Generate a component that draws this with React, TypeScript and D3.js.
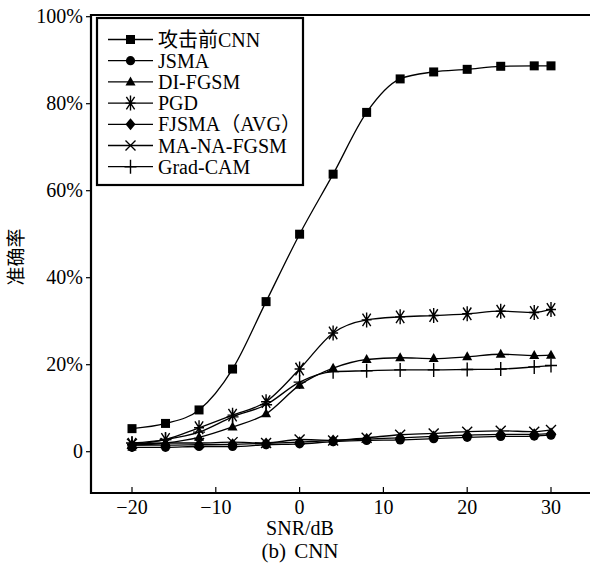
import React from "react";
import * as d3 from "d3";

const snr = [-20, -16, -12, -8, -4, 0, 4, 8, 12, 16, 20, 24, 28, 30];
const cnnClean = [5.3, 6.5, 9.6, 19, 34.5, 50, 63.8, 78, 85.7, 87.3, 87.9, 88.6, 88.7, 88.7];
const jsma = [1.0, 1.0, 1.2, 1.2, 1.6, 1.8, 2.3, 2.6, 2.7, 3.0, 3.3, 3.5, 3.6, 3.8];
const diFgsm = [1.5, 2.0, 3.3, 5.7, 8.7, 15.3, 19.2, 21.2, 21.6, 21.4, 21.8, 22.4, 22.1, 22.2];
const pgd = [1.7, 2.8, 5.5, 8.4, 11.5, 19, 27.3, 30.3, 31, 31.3, 31.7, 32.3, 32, 32.7];
const fjsma = [1.5, 1.5, 1.6, 1.7, 1.9, 2.2, 2.6, 2.9, 3.2, 3.5, 3.8, 4.0, 4.0, 4.2];
const manaFgsm = [1.8, 2.0, 2.0, 2.2, 2.0, 2.8, 2.6, 3.2, 3.9, 4.2, 4.6, 4.8, 4.6, 5.0];
const gradCam = [2.0, 2.8, 4.5, 8.0, 10.8, 16.0, 18.4, 18.6, 18.8, 18.8, 18.9, 19.0, 19.5, 19.8];

const seriesNames = ["攻击前CNN", "JSMA", "DI-FGSM", "PGD", "FJSMA（AVG）", "MA-NA-FGSM", "Grad-CAM"];
const seriesValues = [cnnClean, jsma, diFgsm, pgd, fjsma, manaFgsm, gradCam];
const markerTypes = ["square", "circle", "triangle", "star", "diamond", "x", "plus"];

const xTicks = [-20, -10, 0, 10, 20, 30];
const yTicks = [0, 20, 40, 60, 80, 100];
const yTickLabels = ["0", "20%", "40%", "60%", "80%", "100%"];

const FONT = "'Liberation Serif', 'Times New Roman', 'Noto Sans CJK SC', serif";

function Marker({ type, x, y }: { type: string; x: number; y: number }) {
  const s = 4.5;
  switch (type) {
    case "square":
      return <rect x={x - s} y={y - s} width={2 * s} height={2 * s} fill="#000" />;
    case "circle":
      return <circle cx={x} cy={y} r={4.6} fill="#000" />;
    case "triangle":
      return <path d={`M${x},${y - 5.5}L${x + 5},${y + 3.5}L${x - 5},${y + 3.5}Z`} fill="#000" />;
    case "diamond":
      return <path d={`M${x},${y - 6}L${x + 5},${y}L${x},${y + 6}L${x - 5},${y}Z`} fill="#000" />;
    case "star": {
      const r = 7.5;
      const a = r * 0.55;
      const b = r * 0.84;
      return (
        <path
          d={`M${x},${y - r}L${x},${y + r}M${x - a},${y - b}L${x + a},${y + b}M${x - a},${y + b}L${x + a},${y - b}M${x - 5},${y}L${x + 5},${y}`}
          stroke="#000"
          strokeWidth={1.4}
          fill="none"
        />
      );
    }
    case "x": {
      const r = 5;
      return (
        <path
          d={`M${x - r},${y - r}L${x + r},${y + r}M${x - r},${y + r}L${x + r},${y - r}`}
          stroke="#000"
          strokeWidth={1.4}
          fill="none"
        />
      );
    }
    case "plus": {
      const r = 7;
      return (
        <path
          d={`M${x},${y - r}L${x},${y + r}M${x - 6},${y}L${x + 6},${y}`}
          stroke="#000"
          strokeWidth={1.4}
          fill="none"
        />
      );
    }
  }
  return null;
}

export default function App() {
  const W = 590;
  const H = 571;
  const left = 91;
  const top = 15;
  const bottom = 493;
  const x = d3.scaleLinear().domain([-20, 30]).range([132, 551]);
  const y = d3.scaleLinear().domain([0, 100]).range([451.7, 16.7]);
  const right = 600;

  const line = d3
    .line<number>()
    .x((_, i) => x(snr[i]))
    .y((d) => y(d))
    .curve(d3.curveMonotoneX);

  const legX = 97;
  const legY = 18;
  const legW = 206;
  const legH = 167;
  const rowY0 = 39.5;
  const rowStep = 21.2;

  return (
    <svg width={W} height={H} style={{ position: "absolute", left: 0, top: 0, background: "#fff" }} fontFamily={FONT}>
      <rect x={0} y={0} width={W} height={H} fill="#fff" />
      {/* series lines */}
      {seriesValues.map((vals, si) => (
        <path key={"l" + si} d={line(vals) || ""} fill="none" stroke="#000" strokeWidth={1.3} />
      ))}
      {seriesValues.map((vals, si) =>
        vals.map((v, i) => <Marker key={"m" + si + "-" + i} type={markerTypes[si]} x={x(snr[i])} y={y(v)} />)
      )}
      {/* frame */}
      <path d={`M${right},${top}L${left},${top}L${left},${bottom}L${right},${bottom}`} fill="none" stroke="#000" strokeWidth={2.2} />
      {/* y ticks */}
      {yTicks.map((t, i) => (
        <g key={"yt" + t}>
          <line x1={left - 5} x2={left} y1={y(t)} y2={y(t)} stroke="#000" strokeWidth={1.2} />
          <text x={83} y={y(t)} dy="0.33em" textAnchor="end" fontSize={20}>
            {yTickLabels[i]}
          </text>
        </g>
      ))}
      {/* x ticks */}
      {xTicks.map((t) => (
        <g key={"xt" + t}>
          <line x1={x(t)} x2={x(t)} y1={bottom} y2={bottom - 6} stroke="#000" strokeWidth={1.2} />
          <text x={x(t)} y={514} textAnchor="middle" fontSize={20}>
            {t < 0 ? "\u2212" + Math.abs(t) : String(t)}
          </text>
        </g>
      ))}
      <text x={300} y={535} textAnchor="middle" fontSize={20}>
        SNR/dB
      </text>
      <text x={300} y={558} textAnchor="middle" fontSize={21} wordSpacing={3}>
        (b) CNN
      </text>
      <text
        transform={`translate(23,257) rotate(-90)`}
        textAnchor="middle"
        fontSize={19}
        fontFamily="'Noto Sans CJK SC', sans-serif"
      >
        准确率
      </text>
      {/* legend */}
      <rect x={legX} y={legY} width={legW} height={legH} fill="#fff" stroke="#000" strokeWidth={2.2} />
      {seriesNames.map((n, i) => {
        const ry = rowY0 + i * rowStep;
        return (
          <g key={"lg" + i}>
            <line x1={108} x2={153} y1={ry} y2={ry} stroke="#000" strokeWidth={1.3} />
            <Marker type={markerTypes[i]} x={130.5} y={ry} />
            <text x={158} y={ry} dy="0.35em" fontSize={20}>
              {n}
            </text>
          </g>
        );
      })}
    </svg>
  );
}
